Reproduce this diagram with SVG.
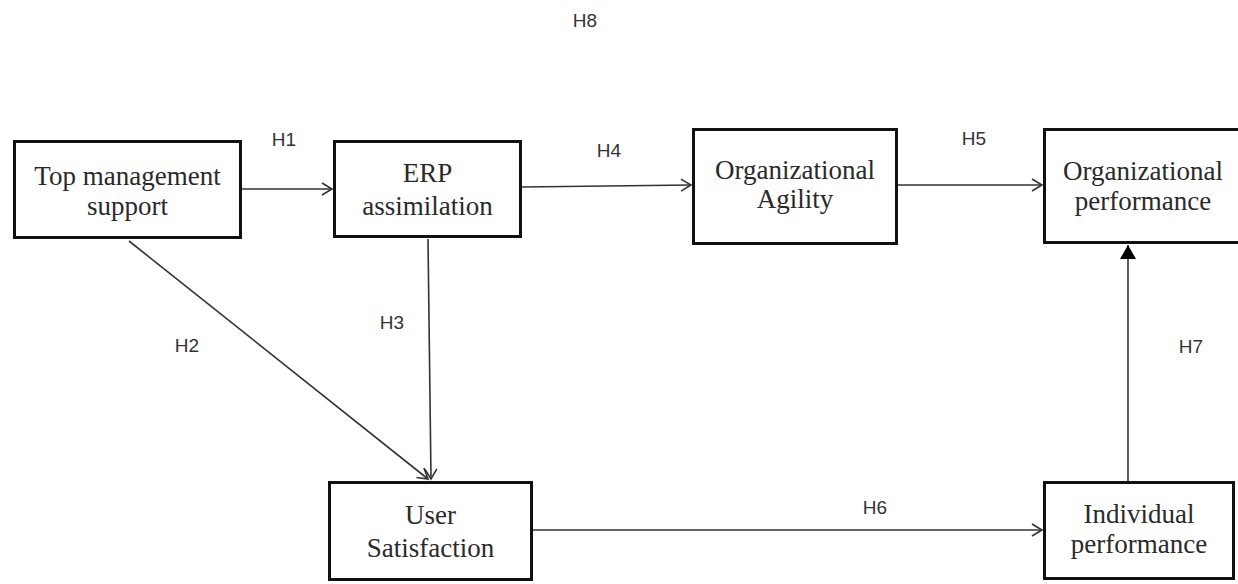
<svg xmlns="http://www.w3.org/2000/svg" width="1238" height="584" viewBox="0 0 1238 584">
<style>
.box{fill:#fff;stroke:#111;stroke-width:3}
.nt{font-family:"Liberation Serif","Times New Roman",serif;font-size:27px;fill:#2a2a2a;text-anchor:middle}
.lbl{font-family:"Liberation Sans",Arial,sans-serif;font-size:19px;fill:#333;text-anchor:middle}
.con{stroke:#333;stroke-width:1.6;fill:none}
</style>
<defs>
<marker id="open" markerUnits="userSpaceOnUse" markerWidth="14" markerHeight="14" refX="10" refY="6" orient="auto" viewBox="-1 -1 13 14">
<path d="M0,0 L10,6 L0,12" fill="none" stroke="#333" stroke-width="1.6"/>
</marker>
<marker id="solid" markerUnits="userSpaceOnUse" markerWidth="16" markerHeight="16" refX="14" refY="8" orient="auto" viewBox="0 0 16 16">
<path d="M0,0 L14,8 L0,16 Z" fill="#000"/>
</marker>
</defs>
<rect width="1238" height="584" fill="#fff"/>
<g id="connectors">
<line class="con" x1="242" y1="189" x2="332" y2="189" marker-end="url(#open)"/>
<line class="con" x1="522" y1="187" x2="691" y2="185" marker-end="url(#open)"/>
<line class="con" x1="898" y1="185" x2="1042" y2="185" marker-end="url(#open)"/>
<line class="con" x1="129" y1="241" x2="428" y2="479" marker-end="url(#open)"/>
<line class="con" x1="428" y1="239" x2="431" y2="479" marker-end="url(#open)"/>
<line class="con" x1="533" y1="530" x2="1042" y2="530" marker-end="url(#open)"/>
<line class="con" x1="1128" y1="481" x2="1128" y2="245" marker-end="url(#solid)"/>
</g>
<g id="labels">
<text class="lbl" x="585" y="27">H8</text>
<text class="lbl" x="284" y="146">H1</text>
<text class="lbl" x="609" y="157">H4</text>
<text class="lbl" x="974" y="145">H5</text>
<text class="lbl" x="187" y="352">H2</text>
<text class="lbl" x="392" y="329">H3</text>
<text class="lbl" x="1191" y="353">H7</text>
<text class="lbl" x="875" y="514">H6</text>
</g>
<g id="node-top-management">
<rect class="box" x="14.5" y="141.5" width="226" height="96"/>
<text class="nt" x="127.5" y="185">Top management</text>
<text class="nt" x="127.5" y="215">support</text>
</g>
<g id="node-erp">
<rect class="box" x="334.5" y="141.5" width="186" height="95"/>
<text class="nt" x="427.5" y="182">ERP</text>
<text class="nt" x="427.5" y="215">assimilation</text>
</g>
<g id="node-agility">
<rect class="box" x="693.5" y="129.5" width="203" height="114"/>
<text class="nt" x="795" y="179">Organizational</text>
<text class="nt" x="795" y="208">Agility</text>
</g>
<g id="node-org-performance">
<rect class="box" x="1044.5" y="129.5" width="200" height="113"/>
<text class="nt" x="1143" y="180">Organizational</text>
<text class="nt" x="1143" y="210">performance</text>
</g>
<g id="node-user-satisfaction">
<rect class="box" x="329.5" y="482.5" width="202" height="97"/>
<text class="nt" x="430.5" y="524">User</text>
<text class="nt" x="430.5" y="557">Satisfaction</text>
</g>
<g id="node-individual-performance">
<rect class="box" x="1044.5" y="482.5" width="189" height="96"/>
<text class="nt" x="1139" y="523">Individual</text>
<text class="nt" x="1139" y="553">performance</text>
</g>
</svg>
